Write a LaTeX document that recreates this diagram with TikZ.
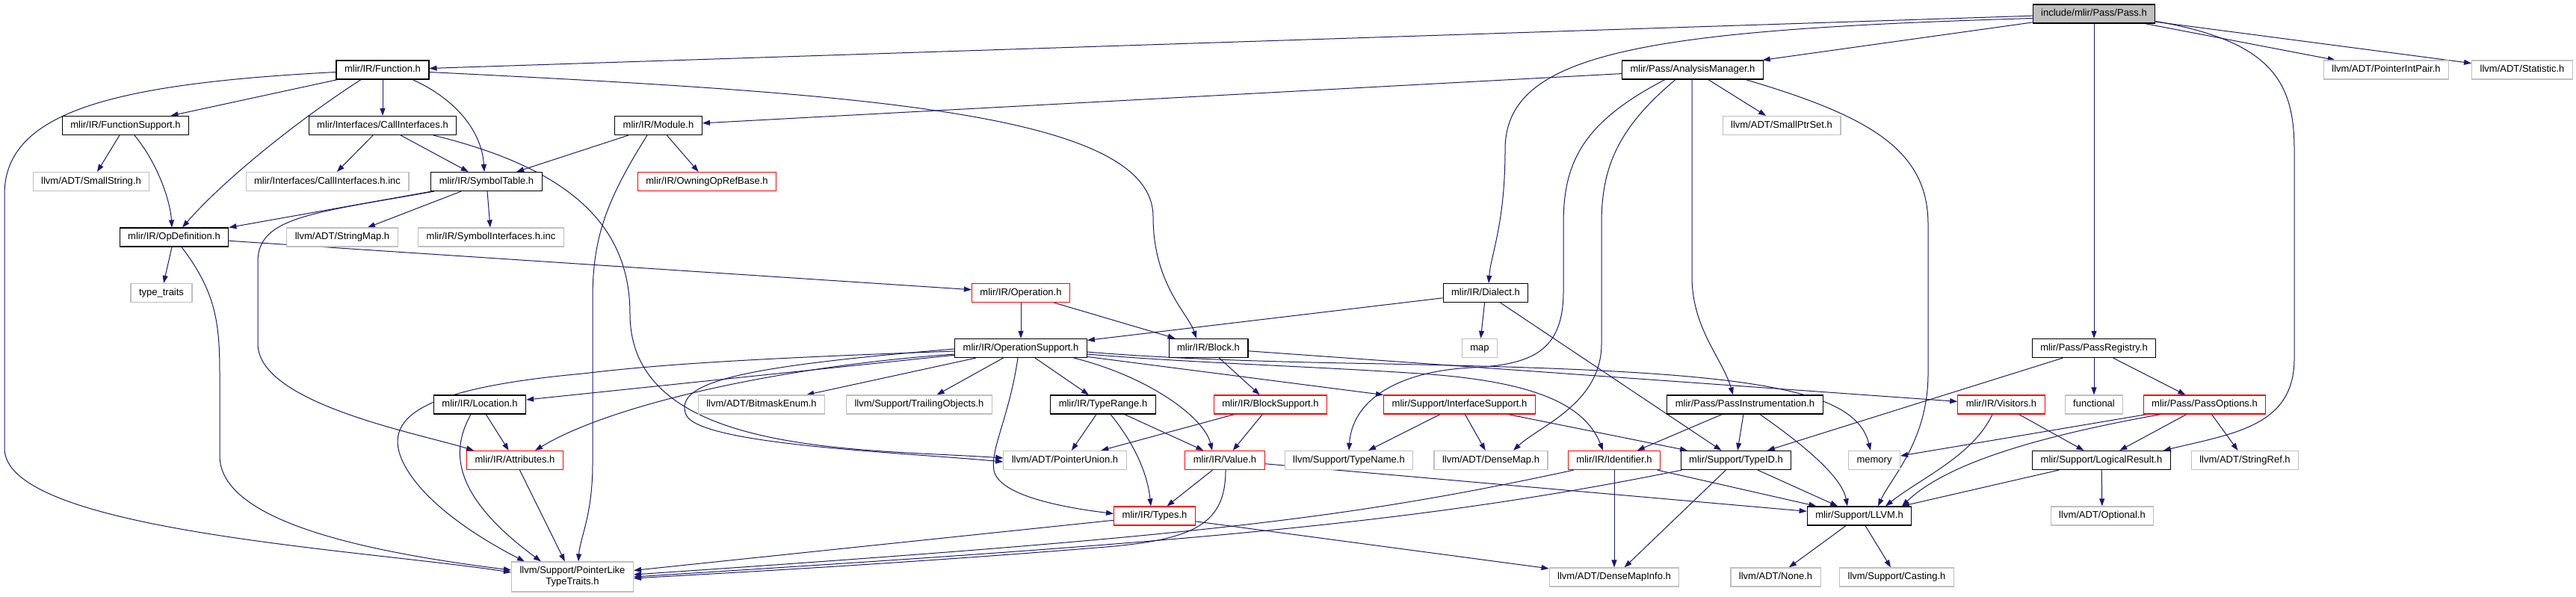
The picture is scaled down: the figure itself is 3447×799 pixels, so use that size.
\documentclass[tikz,border=0pt]{standalone}
\usepackage{fontspec}
\setmainfont{Liberation Sans}
\usetikzlibrary{arrows.meta}
\definecolor{edgecol}{HTML}{191970}
\definecolor{grayb}{HTML}{BFBFBF}
\pgfdeclarelayer{edgelayer}
\pgfsetlayers{edgelayer,main}
\begin{document}
\begin{tikzpicture}[x=1pt,y=-1pt,
  base/.style={draw,rectangle,fill=white,line width=1.2pt,inner xsep=11pt,inner ysep=0pt,minimum height=25pt,font=\fontsize{13pt}{15pt}\selectfont},
  box/.style={base,text height=9.6pt,text depth=2.8pt},
  bk/.style={box,draw=black},
  gr/.style={box,draw=grayb},
  rd/.style={box,draw=red},
  rootbox/.style={box,draw=black,fill=grayb},
  edge/.style={draw=edgecol,line width=1pt,-{Triangle[length=10pt,width=7pt]}}]
\begin{pgfonlayer}{edgelayer}
\fill[white] (0,0) rectangle (3447,799);
\end{pgfonlayer}
\useasboundingbox (0,0) rectangle (3447,799);

% nodes
\node[rootbox] (root) at (2802,18.5) {include/mlir/Pass/Pass.h};
\node[bk] (func) at (512,93.5) {mlir/IR/Function.h};
\node[bk] (am) at (2265,93.5) {mlir/Pass/AnalysisManager.h};
\node[gr] (pip) at (3193,93.5) {llvm/ADT/PointerIntPair.h};
\node[gr] (stat) at (3375,93.5) {llvm/ADT/Statistic.h};
\node[bk] (fsup) at (168,168) {mlir/IR/FunctionSupport.h};
\node[bk] (call) at (512,168) {mlir/Interfaces/CallInterfaces.h};
\node[bk] (mod) at (881,168) {mlir/IR/Module.h};
\node[gr] (sps) at (2384,168) {llvm/ADT/SmallPtrSet.h};
\node[gr] (ss) at (122,243) {llvm/ADT/SmallString.h};
\node[gr] (cinc) at (438,243) {mlir/Interfaces/CallInterfaces.h.inc};
\node[bk] (sym) at (651,243) {mlir/IR/SymbolTable.h};
\node[rd] (own) at (946,243) {mlir/IR/OwningOpRefBase.h};
\node[bk] (opdef) at (233,317.5) {mlir/IR/OpDefinition.h};
\node[gr] (smap) at (458,317.5) {llvm/ADT/StringMap.h};
\node[gr] (syminc) at (657,317.5) {mlir/IR/SymbolInterfaces.h.inc};
\node[gr] (tt) at (216,392) {type\_traits};
\node[rd] (op) at (1366,392) {mlir/IR/Operation.h};
\node[bk] (dia) at (1988,392) {mlir/IR/Dialect.h};
\node[bk] (opsup) at (1366,466) {mlir/IR/OperationSupport.h};
\node[bk] (block) at (1617,466) {mlir/IR/Block.h};
\node[gr] (map) at (1980,466) {map};
\node[bk] (preg) at (2802,466) {mlir/Pass/PassRegistry.h};
\node[bk] (loc) at (642,541.5) {mlir/IR/Location.h};
\node[gr] (bme) at (1019,541.5) {llvm/ADT/BitmaskEnum.h};
\node[gr] (trail) at (1230,541.5) {llvm/Support/TrailingObjects.h};
\node[bk] (trange) at (1476,541.5) {mlir/IR/TypeRange.h};
\node[rd] (bsup) at (1700,541.5) {mlir/IR/BlockSupport.h};
\node[rd] (isup) at (1953,541.5) {mlir/Support/InterfaceSupport.h};
\node[bk] (pinst) at (2335,541.5) {mlir/Pass/PassInstrumentation.h};
\node[rd] (vis) at (2678,541.5) {mlir/IR/Visitors.h};
\node[gr] (fnl) at (2802,541.5) {functional};
\node[rd] (popt) at (2950,541.5) {mlir/Pass/PassOptions.h};
\node[rd] (attr) at (689,616) {mlir/IR/Attributes.h};
\node[gr] (pu) at (1425,616) {llvm/ADT/PointerUnion.h};
\node[rd] (val) at (1639,616) {mlir/IR/Value.h};
\node[gr] (tname) at (1805,616) {llvm/Support/TypeName.h};
\node[gr] (dmap) at (1995,616) {llvm/ADT/DenseMap.h};
\node[rd] (ident) at (2160,616) {mlir/IR/Identifier.h};
\node[bk] (tid) at (2323,616) {mlir/Support/TypeID.h};
\node[gr] (mem) at (2508,616) {memory};
\node[bk] (lres) at (2812,616) {mlir/Support/LogicalResult.h};
\node[gr] (sref) at (3004,616) {llvm/ADT/StringRef.h};
\node[rd] (types) at (1545,690.5) {mlir/IR/Types.h};
\node[bk] (llvm) at (2488,690.5) {mlir/Support/LLVM.h};
\node[gr] (opt) at (2813,690.5) {llvm/ADT/Optional.h};
\node[base,draw=grayb,align=center,minimum height=40pt,inner ysep=2pt] (plt) at (766,772) {llvm/Support/PointerLike\\TypeTraits.h};
\node[gr] (dmi) at (2160,772.5) {llvm/ADT/DenseMapInfo.h};
\node[gr] (none) at (2376,772.5) {llvm/ADT/None.h};
\node[gr] (cast) at (2538,772.5) {llvm/Support/Casting.h};

\begin{pgfonlayer}{edgelayer}
% straight edges
\draw[edge] (root) -- (func);
\draw[edge] (root) -- (am);
\draw[edge] (root) -- (pip);
\draw[edge] (root) -- (stat);
\draw[edge] (root) -- (preg);
\draw[edge] (func) -- (fsup);
\draw[edge] (func) -- (call);
\draw[edge] (fsup) -- (ss);
\draw[edge] (call) -- (cinc);
\draw[edge] (call) -- (sym);
\draw[edge] (mod) -- (sym);
\draw[edge] (mod) -- (own);
\draw[edge] (sym) -- (opdef);
\draw[edge] (sym) -- (smap);
\draw[edge] (sym) -- (syminc);
\draw[edge] (opdef) -- (tt);
\draw[edge] (opdef) -- (op);
\draw[edge] (op) -- (opsup);
\draw[edge] (op) -- (block);
\draw[edge] (dia) -- (opsup);
\draw[edge] (dia) -- (map);
\draw[edge] (dia) -- (tid);
\draw[edge] (preg) -- (tid);
\draw[edge] (preg) -- (fnl);
\draw[edge] (preg) -- (popt);
\draw[edge] (am) -- (mod);
\draw[edge] (am) -- (sps);
\draw[edge] (opsup) -- (loc);
\draw[edge] (opsup) -- (bme);
\draw[edge] (opsup) -- (trail);
\draw[edge] (opsup) -- (trange);
\draw[edge] (opsup) -- (isup);
\draw[edge] (block) -- (bsup);
\draw[edge] (block) -- (vis);
\draw[edge] (loc) -- (attr);
\draw[edge] (attr) -- (plt);
\draw[edge] (trange) -- (pu);
\draw[edge] (trange) -- (val);
\draw[edge] (bsup) -- (pu);
\draw[edge] (bsup) -- (val);
\draw[edge] (val) -- (types);
\draw[edge] (val) -- (llvm);
\draw[edge] (types) -- (plt);
\draw[edge] (types) -- (dmi);
\draw[edge] (ident) -- (dmi);
\draw[edge] (ident) -- (llvm);
\draw[edge] (tid) -- (llvm);
\draw[edge] (tid) -- (dmi);
\draw[edge] (isup) -- (tname);
\draw[edge] (isup) -- (dmap);
\draw[edge] (isup) -- (tid);
\draw[edge] (pinst) -- (ident);
\draw[edge] (pinst) -- (tid);
\draw[edge] (vis) -- (lres);
\draw[edge] (popt) -- (mem);
\draw[edge] (popt) -- (lres);
\draw[edge] (popt) -- (sref);
\draw[edge] (lres) -- (opt);
\draw[edge] (lres) -- (llvm);
\draw[edge] (llvm) -- (none);
\draw[edge] (llvm) -- (cast);

% curved edges
\draw[edge] ([yshift=-6pt]root.west) .. controls (2200,40) and (2014,70) .. (2014,200) .. controls (2014,300) and (1995,340) .. ([xshift=4pt]dia.north);
\draw[edge] ([yshift=-10pt]root.east) .. controls (3040,55) and (3070,110) .. (3070,200) -- (3070,480) .. controls (3070,570) and (2990,580) .. ([xshift=-10pt]lres.north east);
\draw[edge] ([xshift=-29pt]func.south) .. controls (400,160) and (300,240) .. ([xshift=11pt]opdef.north);
\draw[edge] ([xshift=40pt]func.south) .. controls (615,135) and (645,180) .. ([xshift=-3pt]sym.north);
\draw[edge] ([yshift=-3pt]func.east) .. controls (1150,125) and (1543,150) .. (1543,290) .. controls (1543,380) and (1590,420) .. ([xshift=-16pt]block.north);
\draw[edge] ([yshift=-3pt]func.west) .. controls (150,112) and (6,150) .. (6,260) -- (6,600) .. controls (6,710) and (480,735) .. ([yshift=6pt]plt.west);
\draw[edge] ([xshift=12pt]fsup.south) .. controls (212,220) and (228,270) .. ([xshift=-3pt]opdef.north);
\draw[edge] ([xshift=68pt]call.south) .. controls (760,225) and (843,300) .. (843,420) .. controls (843,610) and (1150,600) .. ([yshift=3pt]pu.west);
\draw[edge] ([xshift=-15pt]mod.south) .. controls (810,270) and (793,320) .. (793,400) -- (793,620) .. controls (793,690) and (776,720) .. ([xshift=8pt]plt.north);
\draw[edge] ([xshift=-70pt]sym.south) .. controls (420,285) and (345,290) .. (345,350) -- (345,460) .. controls (345,540) and (560,580) .. ([xshift=-55pt]attr.north);
\draw[edge] ([xshift=10pt]opdef.south) .. controls (288,390) and (294,430) .. (294,500) -- (294,610) .. controls (294,700) and (500,740) .. ([yshift=9pt]plt.west);
\draw[edge] ([xshift=-1pt]am.south) -- (2264,370) .. controls (2264,440) and (2305,480) .. ([xshift=-16pt]pinst.north);
\draw[edge] ([xshift=-37pt]am.south) .. controls (2115,165) and (2092,220) .. (2092,300) -- (2092,390) .. controls (2092,470) and (2050,488) .. (1970,492) .. controls (1880,496) and (1810,530) .. (tname.north);
\draw[edge] ([xshift=-23pt]am.south) .. controls (2160,175) and (2143,230) .. (2143,300) -- (2143,460) .. controls (2143,540) and (2060,570) .. ([xshift=30pt]dmap.north);
\draw[edge] ([xshift=71pt]am.south) .. controls (2500,155) and (2580,200) .. (2580,300) -- (2580,500) .. controls (2580,590) and (2530,640) .. ([xshift=25pt]llvm.north);
\draw[edge] ([yshift=-4pt]opsup.west) .. controls (1000,480) and (880,488) .. (780,500) .. controls (560,520) and (510,560) .. (540,620) .. controls (570,680) and (660,730) .. ([xshift=-64pt]plt.north);
\draw[edge] ([yshift=-8pt]opsup.west) .. controls (1050,490) and (820,540) .. ([xshift=27pt]attr.north);
\draw[edge] ([yshift=-1pt]opsup.west) .. controls (1000,490) and (900,510) .. (918,555) .. controls (935,595) and (1200,605) .. ([yshift=-2pt]pu.west);
\draw[edge] ([xshift=-4pt]opsup.south) .. controls (1350,560) and (1325,600) .. (1330,630) .. controls (1338,665) and (1430,680) .. ([yshift=3pt]types.west);
\draw[edge] ([xshift=71pt]opsup.south) .. controls (1540,505) and (1612,560) .. ([xshift=-17pt]val.north);
\draw[edge] ([yshift=-8pt]opsup.east) .. controls (1600,486) and (1750,490) .. (1900,500) .. controls (2050,510) and (2120,540) .. ([xshift=-15pt]ident.north);
\draw[edge] ([yshift=-5pt]opsup.east) .. controls (1560,480) and (1700,484) .. (1800,486) .. controls (2300,495) and (2480,510) .. ([xshift=-5pt]mem.north);
\draw[edge] ([xshift=-12pt]loc.south) .. controls (605,600) and (600,660) .. ([xshift=-42pt]plt.north);
\draw[edge] ([xshift=10pt]trange.south) .. controls (1515,590) and (1535,630) .. ([xshift=-5pt]types.north);
\draw[edge] ([xshift=1pt]val.south) .. controls (1640,700) and (1600,722) .. (1480,732) .. controls (1200,755) and (950,768) .. ([yshift=-2pt]plt.east);
\draw[edge] ([xshift=8pt]ident.south west) .. controls (1800,695) and (1600,718) .. ([yshift=3pt]plt.east);
\draw[edge] ([xshift=2pt]tid.south west) .. controls (1900,700) and (1600,725) .. (plt.east);
\draw[edge] ([xshift=20pt]pinst.south) .. controls (2420,600) and (2465,640) .. ([xshift=-16pt]llvm.north);
\draw[edge] ([xshift=-12pt]vis.south) .. controls (2640,610) and (2570,640) .. ([xshift=35pt]llvm.north);
\draw[edge] ([xshift=-59pt]popt.south) .. controls (2750,580) and (2610,615) .. ([xshift=57pt]llvm.north);
\end{pgfonlayer}
\end{tikzpicture}
\end{document}
